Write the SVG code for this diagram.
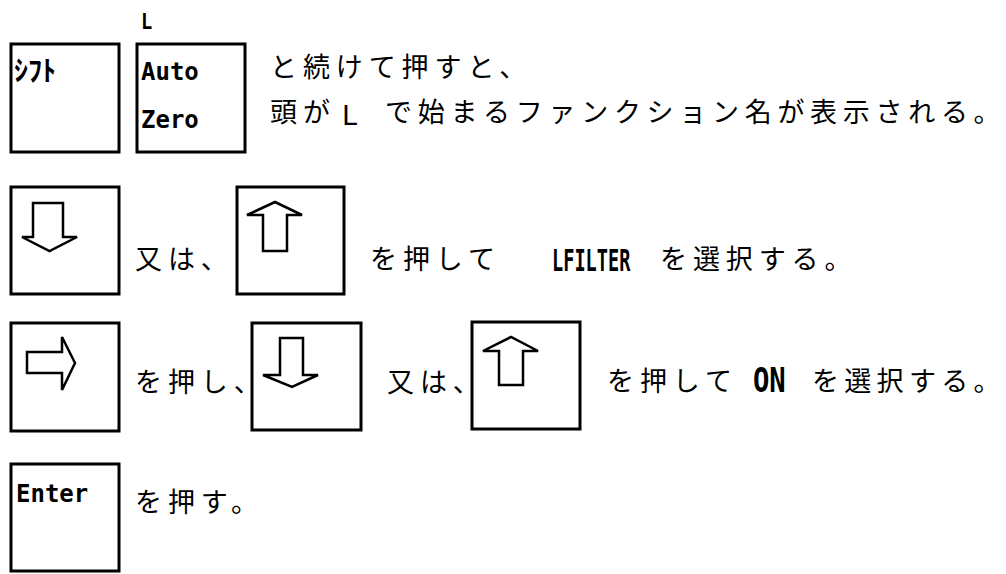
<svg xmlns="http://www.w3.org/2000/svg" width="1006" height="574" viewBox="0 0 1006 574">
<style>
.key{fill:#fff;stroke:#000;stroke-width:3}
.arr{fill:#fff;stroke:#000;stroke-width:2.5;stroke-linejoin:miter}
.jp{font-family:"Noto Sans CJK JP","Noto Sans",sans-serif;font-size:27px;letter-spacing:5.9px;fill:#000}
.lbl{font-family:"DejaVu Sans Mono","Liberation Mono",monospace;font-size:24px;font-weight:bold;fill:#000}
.kana{font-family:"Noto Sans CJK JP",sans-serif;font-size:28px;font-weight:bold;fill:#000}
.bold{font-family:"DejaVu Sans Mono","Liberation Mono",monospace;font-weight:bold;fill:#000}
.reg{font-family:"DejaVu Sans","Liberation Sans",sans-serif;fill:#000}
</style>
<rect width="1006" height="574" fill="#fff"/>
<g id="row1">
  <text class="bold" transform="translate(141,29) scale(0.85,1)" font-size="22">L</text>
  <g id="key-shift"><rect class="key" x="11" y="44" width="108" height="108"/><text class="kana" x="14" y="81">ｼﾌﾄ</text></g>
  <g id="key-autozero"><rect class="key" x="137" y="44" width="108" height="108"/><text class="lbl" x="141" y="80">Auto</text><text class="lbl" x="141" y="128">Zero</text></g>
  <text class="jp" x="270" y="77">と続けて押すと、</text>
  <text class="jp" x="270" y="122">頭が</text>
  <text class="reg" x="342" y="125" font-size="27">L</text>
  <text class="jp" x="385" y="122" style="letter-spacing:5.7px">で始まるファンクション名が表示される。</text>
</g>
<g id="row2">
  <g id="key-down1"><rect class="key" x="11" y="187" width="108" height="107"/><path class="arr" d="M33,203 H63 V237 H77 L49.5,251 L22,237 H33 Z"/></g>
  <text class="jp" x="135" y="269">又は、</text>
  <g id="key-up1"><rect class="key" x="237" y="187" width="107" height="107"/><path class="arr" d="M263,251 V215 H247 L275,202 L302,215 H287 V251 Z"/></g>
  <text class="jp" x="370" y="269">を押して</text>
  <text class="bold" transform="translate(552,271) scale(0.6,1)" font-size="31">LFILTER</text>
  <text class="jp" x="660" y="269">を選択する。</text>
</g>
<g id="row3">
  <g id="key-right"><rect class="key" x="11" y="323" width="108" height="108"/><path class="arr" d="M27,352 H62 V337 L75,363 L62,390 V373 H27 Z"/></g>
  <text class="jp" x="135" y="392">を押し、</text>
  <g id="key-down2"><rect class="key" x="252" y="323" width="109" height="107"/><path class="arr" d="M280,338 H303 V375 H318 L292,387 L263,375 H280 Z"/></g>
  <text class="jp" x="387" y="392">又は、</text>
  <g id="key-up2"><rect class="key" x="472" y="322" width="108" height="107"/><path class="arr" d="M499,385 V351 H483 L511,337 L538,351 H523 V385 Z"/></g>
  <text class="jp" x="607" y="391">を押して</text>
  <text class="bold" transform="translate(753,392) scale(0.8,1)" font-size="34">ON</text>
  <text class="jp" x="812" y="391" style="letter-spacing:5.3px">を選択する。</text>
</g>
<g id="row4">
  <g id="key-enter"><rect class="key" x="11" y="464" width="108" height="107"/><text class="lbl" x="16" y="502">Enter</text></g>
  <text class="jp" x="135" y="512">を押す。</text>
</g>
<g id="connectors"/>
</svg>
